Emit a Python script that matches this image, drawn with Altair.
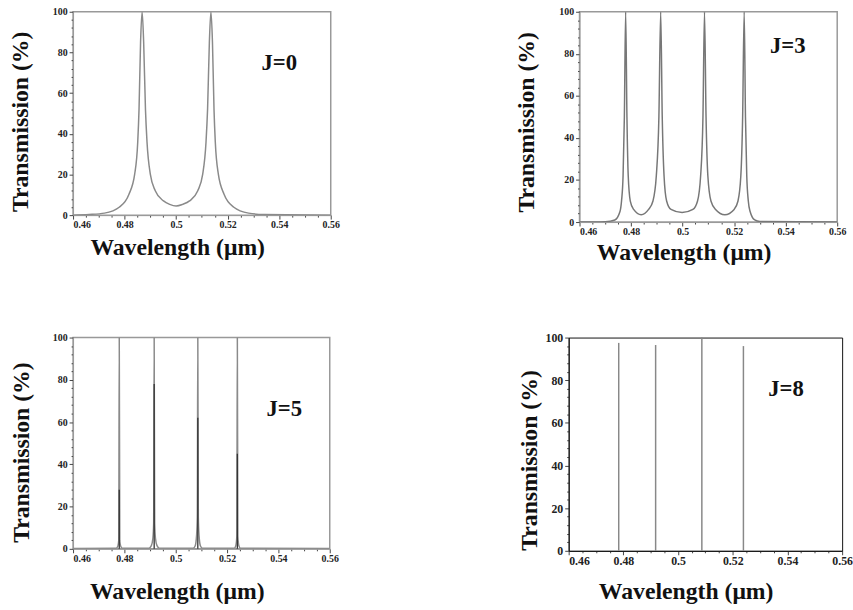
import altair as alt
import pandas as pd

FONT = "Liberation Serif"
X_DOMAIN = [0.46, 0.56]
Y_DOMAIN = [0, 100]
X_TITLE = "Wavelength (μm)"
Y_TITLE = "Transmission (%)"

# ---- J = 0 : two broad resonances ----
J0_WL = [0.460, 0.4662, 0.4722, 0.4779, 0.4817, 0.4839, 0.4851, 0.4856, 0.4862, 0.4868,
         0.4874, 0.4881, 0.4887, 0.4900, 0.4919, 0.4951, 0.4975, 0.5000, 0.5025, 0.5052,
         0.5084, 0.5103, 0.5116, 0.5122, 0.5129, 0.5135, 0.5141, 0.5147, 0.5152, 0.5164,
         0.5186, 0.5224, 0.5281, 0.5341, 0.560]
J0_T = [0.0, 0.3, 1.0, 3.9, 10.3, 20, 36, 52, 85, 100,
        85, 52, 36, 20, 12, 7, 5.3, 4.5, 5.3, 7,
        12, 20, 36, 52, 85, 100, 85, 52, 36, 20,
        10.3, 3.9, 1.0, 0.3, 0.0]

# ---- J = 3 : four resonances ----
J3_WL = [0.460, 0.4700, 0.4737, 0.4757, 0.4763, 0.4769, 0.4774, 0.4779, 0.4784, 0.4789,
         0.4797, 0.4810, 0.4839, 0.4868, 0.4885, 0.4898, 0.4908, 0.4915, 0.4921, 0.4928,
         0.4938, 0.4955, 0.4998, 0.5040, 0.5058, 0.5070, 0.5079, 0.5085, 0.5091, 0.5098,
         0.5110, 0.5128, 0.5164, 0.5200, 0.5215, 0.5226, 0.5233, 0.5239, 0.5244, 0.5249,
         0.5255, 0.5262, 0.5280, 0.5300, 0.560]
J3_T = [0.0, 0.2, 1.0, 5, 10, 22, 50, 100, 50, 22,
        10, 6, 3.5, 6, 10, 22, 50, 100, 50, 22,
        10, 6, 4.5, 6, 10, 22, 50, 100, 50, 22,
        10, 6, 3.5, 6, 10, 22, 50, 100, 50, 22,
        10, 5, 1.0, 0.3, 0.0]

# ---- J = 5 : very narrow spikes ----
J5_WL = [0.460, 0.4768, 0.4775, 0.4778, 0.4780, 0.4782, 0.4785, 0.4792,
         0.4896, 0.4905, 0.4911, 0.4914, 0.4916, 0.4918, 0.4921, 0.4927, 0.4936,
         0.5068, 0.5076, 0.5081, 0.5084, 0.5086, 0.5088, 0.5091, 0.5096, 0.5104,
         0.5228, 0.5234, 0.5238, 0.5240, 0.5242, 0.5246, 0.5252, 0.560]
J5_T = [0.2, 0.3, 1.5, 4, 100, 4, 1.5, 0.3,
        0.3, 1.5, 5, 12, 100, 12, 5, 1.5, 0.3,
        0.3, 1.5, 6, 15, 100, 15, 6, 1.5, 0.3,
        0.3, 1.5, 6, 100, 6, 1.5, 0.3, 0.2]
J5_PEAK_WL = [0.4780, 0.4916, 0.5086, 0.5240]
J5_PEAK_DARK = [28, 78, 62, 45]

# ---- J = 8 : single lines ----
J8_PEAK_WL = [0.4783, 0.4918, 0.5087, 0.5239]
J8_PEAK_T = [97.5, 96.5, 100, 96]

LABELS = ["J=0", "J=3", "J=5", "J=8"]
LABEL_WL = [0.5400, 0.5408, 0.5423, 0.5395]
LABEL_T = [75, 83.5, 66, 76]

X_TICKS = [round(0.46 + i * 0.005, 3) for i in range(21)]
Y_TICKS = list(range(0, 101, 4))


def axes(w, h, lab_size, frame, xpad, ypad, ydy, xdx=-25):
    xa = alt.Axis(
        title=X_TITLE, values=X_TICKS,
        labelExpr="abs(round(datum.value*1000) % 20) === 0 ? format(datum.value, '~g') : ''",
        labelAlign={"condition": {"test": "datum.value < 0.461", "value": "left"}, "value": "center"},
        tickSize={"condition": {"test": "abs(round(datum.value*1000) % 20) === 0", "value": 4}, "value": 2},
        labelFont=FONT, labelFontWeight="bold", labelFontSize=lab_size, labelColor="#222",
        labelPadding=1, labelOverlap=False,
        titleFont=FONT, titleFontWeight="bold", titleFontSize=24, titleColor="#111",
        titlePadding=xpad, titleX=w / 2 + xdx,
        domainColor=frame, tickColor="#444", grid=False,
    )
    ya = alt.Axis(
        title=Y_TITLE, values=Y_TICKS,
        tickSize={"condition": {"test": "datum.value % 20 === 0", "value": 4}, "value": 2},
        labelExpr="datum.value % 20 === 0 ? format(datum.value, 'd') : ''",
        labelFont=FONT, labelFontWeight="bold", labelFontSize=lab_size, labelColor="#222",
        labelPadding=2, labelOverlap=False,
        titleFont=FONT, titleFontWeight="bold", titleFontSize=24, titleColor="#111",
        titlePadding=ypad, titleY=h / 2 + ydy,
        domainColor=frame, tickColor="#444", grid=False,
    )
    return xa, ya


def xs(xa):
    return alt.X("wl:Q", scale=alt.Scale(domain=X_DOMAIN, nice=False, zero=False), axis=xa)


def ys(ya):
    return alt.Y("t:Q", scale=alt.Scale(domain=Y_DOMAIN, nice=False), axis=ya)


def label_layer(i, xa, ya):
    return alt.Chart(pd.DataFrame({"wl": [LABEL_WL[i]], "t": [LABEL_T[i]], "s": [LABELS[i]]})).mark_text(
        font=FONT, fontWeight="bold", fontSize=23, color="#111"
    ).encode(x=xs(xa), y=ys(ya), text="s:N")


def curve_panel(wl, t, i, w, h, lab_size, frame, xpad, ypad, ydy, color="#8a8a8a"):
    xa, ya = axes(w, h, lab_size, frame, xpad, ypad, ydy)
    line = alt.Chart(pd.DataFrame({"wl": wl, "t": t})).mark_line(
        color=color, strokeWidth=1.5, interpolate="monotone", clip=True
    ).encode(x=xs(xa), y=ys(ya))
    return line, label_layer(i, xa, ya), xa, ya


# Panel 1
l1, t1, _, _ = curve_panel(J0_WL, J0_T, 0, 261, 206, 10, "#999", 6, 20, 8)
p1 = alt.layer(l1, t1).properties(width=261, height=206,
                                  view=alt.ViewBackground(stroke="#999", strokeWidth=1.5))

# Panel 2
l2, t2, _, _ = curve_panel(J3_WL, J3_T, 1, 261, 213, 10, "#999", 4, 21, 5, color="#777")
p2 = alt.layer(l2, t2).properties(width=261, height=213,
                                  view=alt.ViewBackground(stroke="#999", strokeWidth=1.5))

# Panel 3
l3, t3, xa3, ya3 = curve_panel(J5_WL, J5_T, 2, 260, 214, 10, "#999", 16, 19, 9)
dark = alt.Chart(pd.DataFrame({"wl": J5_PEAK_WL, "t": J5_PEAK_DARK})).mark_rule(
    color="#333", strokeWidth=1.3
).encode(x=xs(xa3), y=ys(ya3), y2=alt.datum(0))
p3 = alt.layer(l3, dark, t3).properties(
    width=260, height=214,
    title=alt.TitleParams(".", fontSize=9, offset=0, color="white"),
    view=alt.ViewBackground(stroke="#999", strokeWidth=1.5))

# Panel 4
xa4, ya4 = axes(277, 216, 12, "#111", 13, 4, 16, xdx=-20)
rules4 = alt.Chart(pd.DataFrame({"wl": J8_PEAK_WL, "t": J8_PEAK_T})).mark_rule(
    color="#888", strokeWidth=1.5
).encode(x=xs(xa4), y=ys(ya4), y2=alt.datum(0))
p4 = alt.layer(rules4, label_layer(3, xa4, ya4)).properties(
    width=277, height=216, view=alt.ViewBackground(stroke="#111", strokeWidth=1))

chart = alt.vconcat(
    alt.hconcat(p1, p2, spacing=175),
    alt.concat(p3, p4, columns=2, spacing=179, align="none"),
    spacing=58,
).properties(
    padding={"left": 8, "top": 2, "right": 0, "bottom": 0}
).configure(background="white").configure_axis(labelOverlap=False)

chart.save("out.html", embed_options={"renderer": "svg", "actions": False})
